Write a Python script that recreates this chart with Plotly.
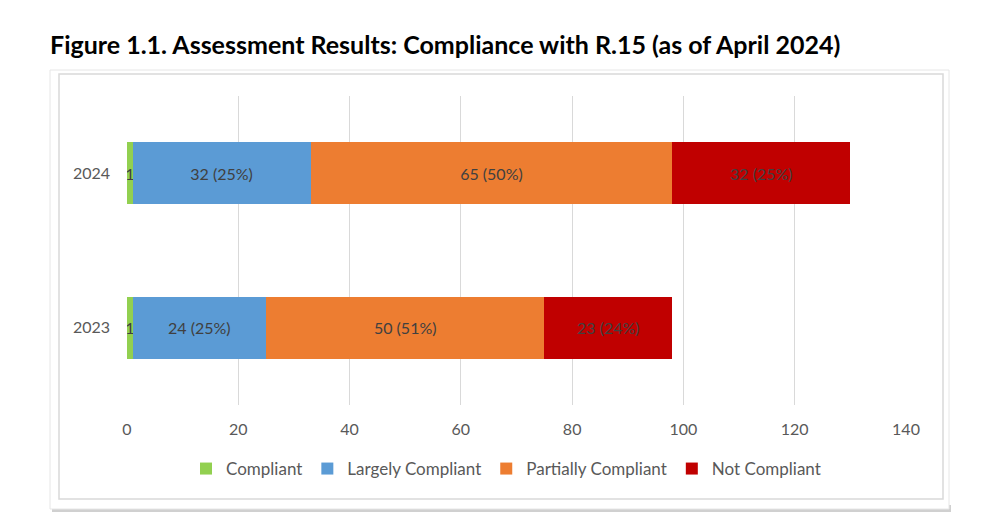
import plotly.graph_objects as go

years = ["2023", "2024"]
series = ["Compliant", "Largely Compliant", "Partially Compliant", "Not Compliant"]
values = {
    "Compliant": [1, 1],
    "Largely Compliant": [24, 32],
    "Partially Compliant": [50, 65],
    "Not Compliant": [23, 32],
}
labels = {
    "Compliant": ["1", "1"],
    "Largely Compliant": ["24 (25%)", "32 (25%)"],
    "Partially Compliant": ["50 (51%)", "65 (50%)"],
    "Not Compliant": ["23 (24%)", "32 (25%)"],
}
colors = {
    "Compliant": "#92D050",
    "Largely Compliant": "#5B9BD5",
    "Partially Compliant": "#ED7D31",
    "Not Compliant": "#C00000",
}
x_ticks = [0, 20, 40, 60, 80, 100, 120, 140]

FONT = "Lato, 'Open Sans', sans-serif"
fig = go.Figure()
for s in series:
    fig.add_trace(go.Bar(
        y=years, x=values[s], name=s, orientation="h",
        marker=dict(color=colors[s], line=dict(width=0)),
        text=labels[s], textposition="inside", insidetextanchor="middle",
        constraintext="none",
        textfont=dict(family=FONT, size=16, color="#404040"),
        hoverinfo="x+name",
    ))

W, H = 1000, 530
l, r, t, b = 127, 1000 - 906, 96, 530 - 405
pw, ph = W - l - r, H - t - b

def fx(xp):
    return (xp - l) / pw

def fy(yp):
    return (H - b - yp) / ph

shapes = [
    dict(type="rect", xref="paper", yref="paper", x0=fx(52), x1=fx(951), y0=fy(512), y1=fy(505),
         fillcolor="#d0d0d0", line=dict(width=0), layer="below"),
    dict(type="rect", xref="paper", yref="paper", x0=fx(50), x1=fx(949), y0=fy(509), y1=fy(70),
         fillcolor="white", line=dict(color="#e6e6e6", width=1), layer="below"),
    dict(type="rect", xref="paper", yref="paper", x0=fx(59), x1=fx(943), y0=fy(499), y1=fy(74),
         fillcolor="white", line=dict(color="#d9d9d9", width=1.5), layer="below"),
]

fig.update_layout(
    width=W, height=H,
    barmode="stack", bargap=0.6,
    margin=dict(l=l, r=r, t=t, b=b),
    paper_bgcolor="white", plot_bgcolor="rgba(0,0,0,0)",
    shapes=shapes,
    title=dict(text="<b>Figure 1.1. Assessment Results: Compliance with R.15 (as of April 2024)</b>",
               x=50 / W, xanchor="left", y=1 - 45 / H, yanchor="middle",
               font=dict(family=FONT, size=25, color="#000000")),
    xaxis=dict(range=[0, 140], tickvals=x_ticks, showgrid=True, gridcolor="#d9d9d9", gridwidth=1,
               zeroline=False, showline=False, ticks="",
               tickfont=dict(family=FONT, size=16, color="#595959"), ticklabelstandoff=13),
    yaxis=dict(categoryorder="array", categoryarray=years, showgrid=False, zeroline=False,
               ticks="", tickfont=dict(family=FONT, size=16, color="#595959"), ticklabelstandoff=16),
    legend=dict(orientation="h", x=fx(506), xanchor="center", y=fy(469), yanchor="middle",
                font=dict(family=FONT, size=17, color="#595959"), traceorder="normal",
                itemwidth=30),
    showlegend=True,
)
fig.write_html("out.html")
